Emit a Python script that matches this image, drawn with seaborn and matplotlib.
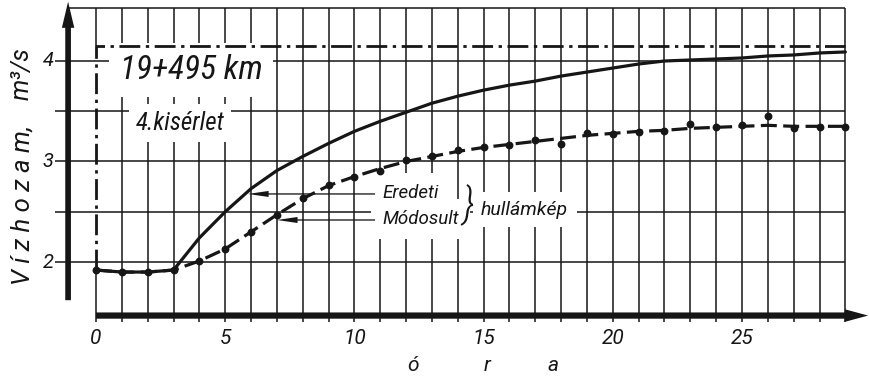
import numpy as np
import matplotlib
matplotlib.use("Agg")
import matplotlib.pyplot as plt
import seaborn as sns

# Hours of the experiment
hours = list(range(30))

# Original wave (solid line), m3/s
eredeti = [1.92, 1.90, 1.90, 1.92, 2.24, 2.50, 2.73, 2.91, 3.05, 3.18,
           3.30, 3.40, 3.49, 3.58, 3.65, 3.71, 3.76, 3.80, 3.85, 3.89,
           3.93, 3.97, 4.00, 4.01, 4.02, 4.03, 4.05, 4.06, 4.08, 4.09]

# Modified wave, fitted curve (dashed line), m3/s
modosult = [1.92, 1.90, 1.90, 1.92, 2.01, 2.13, 2.30, 2.47, 2.63, 2.76,
            2.85, 2.93, 3.00, 3.05, 3.10, 3.14, 3.17, 3.20, 3.23, 3.26,
            3.28, 3.30, 3.31, 3.33, 3.34, 3.35, 3.36, 3.35, 3.35, 3.35]

# Modified wave, measured points, m3/s
modosult_meres = [1.92, 1.90, 1.90, 1.92, 2.01, 2.13, 2.30, 2.47, 2.64, 2.77,
                  2.85, 2.91, 3.01, 3.05, 3.11, 3.14, 3.16, 3.21, 3.17, 3.28,
                  3.27, 3.29, 3.30, 3.37, 3.34, 3.36, 3.45, 3.33, 3.34, 3.34]

# Upstream step inflow (dash-dot line)
bemeno_ora = [0, 0, 29]
bemeno_q = [1.92, 4.15, 4.15]

x_ticks = [0, 5, 10, 15, 20, 25]
x_labels = ["0", "5", "10", "15", "20", "25"]
y_ticks = [2, 3, 4]
y_labels = ["2", "3", "4"]
grid_x = list(range(30))
grid_y = [2.0, 2.5, 3.0, 3.5, 4.0]

ink = "#161616"

sns.set_theme(style="white")
condensed = ["Liberation Sans Narrow", "Roboto Condensed",
             "DejaVu Sans Condensed", "Roboto", "DejaVu Sans"]
regular = ["Roboto", "DejaVu Sans"]
plt.rcParams["font.family"] = regular
plt.rcParams["font.style"] = "italic"

fig = plt.figure(figsize=(8.7, 3.76), dpi=100)
fig.patch.set_facecolor("white")
ax = fig.add_axes([0, 0, 1, 1])
ax.set_xlim(-96 / 25.84, 774 / 25.84)
ax.set_ylim(2 - 114 / 100.5, 4 + 61 / 100.5)
ax.axis("off")

x_axis_y = 1.467
y_axis_x = -1.08
grid_top = 4.53

# grid; the x=0 line gives way to the dash-dot inflow line
ax.vlines(grid_x[1:], x_axis_y - 0.06, grid_top, color=ink, lw=1.1, zorder=1)
ax.vlines([0, 0], [x_axis_y - 0.06, bemeno_q[1]], [bemeno_q[0], grid_top],
          color=ink, lw=1.1, zorder=1)
ax.hlines(grid_y, -1.6, 29, color=ink, lw=1.1, zorder=1)
ax.hlines(grid_top, y_axis_x, 29, color=ink, lw=1.1, zorder=1)

# axes arrows
ax.arrow(y_axis_x, 1.62, 0, 2.97, width=0.22, head_width=0.48, head_length=0.26,
         length_includes_head=True, color=ink, lw=0, zorder=6)
ax.arrow(0, x_axis_y, 29.88, 0, width=0.062, head_width=0.125, head_length=0.9,
         length_includes_head=True, color=ink, lw=0, zorder=6)

# tick labels
for t, lab in zip(x_ticks, x_labels):
    ax.text(t, 1.234, lab, ha="center", va="center", fontsize=15, color=ink)
for t, lab in zip(y_ticks, y_labels):
    ax.text(-1.85, t, lab, ha="center", va="center", fontsize=14.5, color=ink)

# axis titles
ax.text(-2.86, 1.77, "V í z h o z a m,", rotation=90,
        ha="center", va="bottom", fontsize=18.5, color=ink)
ax.text(-2.86, 4.14, "m³/s", rotation=90,
        ha="center", va="top", fontsize=18, color=ink)
for xp, ch in zip([12.27, 15.13, 17.69], ["ó", "r", "a"]):
    ax.text(xp, 0.975, ch, ha="center", va="center", fontsize=15, color=ink)

# curves
ax.plot(bemeno_ora, bemeno_q, color=ink, lw=2.0,
        linestyle=(0, (7.5, 2.0, 1.2, 2.0)), zorder=4)
sns.lineplot(x=hours, y=eredeti, color=ink, lw=2.3, ax=ax, zorder=4)
sns.lineplot(x=hours, y=modosult, color=ink, lw=2.3, ax=ax, zorder=4,
             linestyle=(0, (5.0, 2.0)))
sns.scatterplot(x=hours, y=modosult_meres, color=ink, s=32, linewidth=0,
                ax=ax, zorder=5)

# labels with white background
box = dict(facecolor="white", edgecolor="none", pad=8)
ax.text(3.68, 3.91, "19+495 km", ha="center", va="center", fontsize=24,
        family=condensed, color=ink, bbox=box, zorder=3)
ax.text(3.25, 3.38, "4.kisérlet", ha="center", va="center", fontsize=18,
        family=condensed, color=ink,
        bbox=dict(facecolor="white", edgecolor="none", pad=5), zorder=3)
ax.text(11.07, 2.69, "Eredeti", ha="left", va="center", fontsize=13.5,
        color=ink, bbox=box, zorder=3)
ax.text(11.07, 2.43, "Módosult", ha="left", va="center", fontsize=13.5,
        color=ink, bbox=box, zorder=3)
ax.text(14.4, 2.56, "}", ha="center", va="center", fontsize=30,
        family=condensed, color=ink, fontweight="light", zorder=3)
ax.text(14.9, 2.52, "hullámkép", ha="left", va="center", fontsize=14,
        color=ink, bbox=dict(facecolor="white", edgecolor="none", pad=6), zorder=3)

# pointer arrows to the curves
ax.arrow(10.8, 2.677, -4.92, 0, width=0.013, head_width=0.06, head_length=0.8,
         length_includes_head=True, color=ink, lw=0, zorder=6)
ax.arrow(10.8, 2.418, -3.8, 0, width=0.013, head_width=0.06, head_length=0.8,
         length_includes_head=True, color=ink, lw=0, zorder=6)

fig.savefig("out.png", dpi=100, facecolor="white")
